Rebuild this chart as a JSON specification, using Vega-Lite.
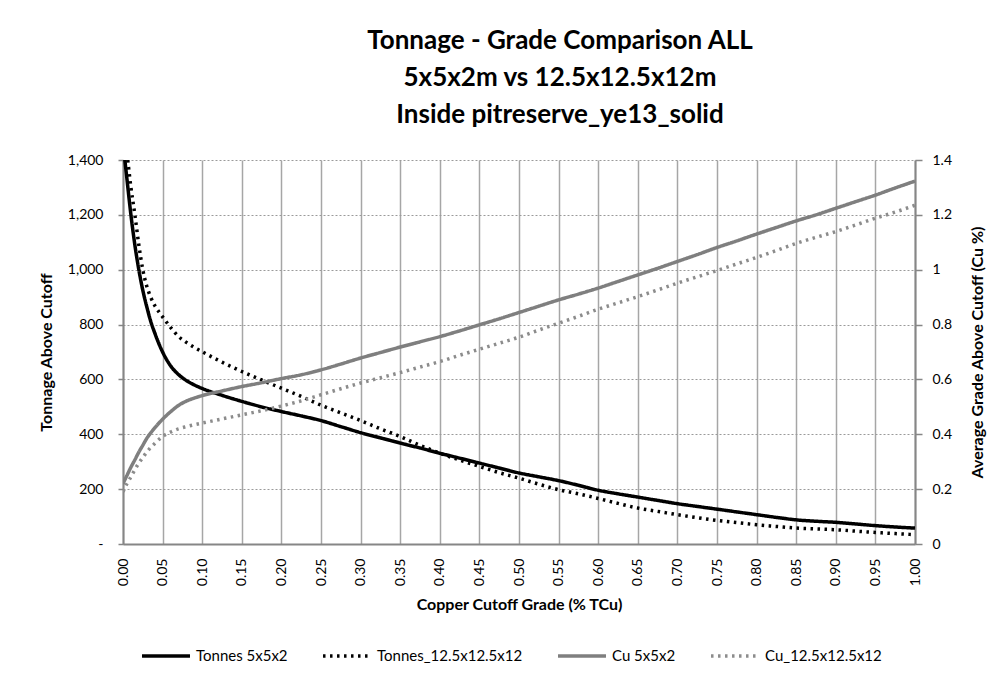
{
  "$schema": "https://vega.github.io/schema/vega-lite/v6.json",
  "autosize": {"type": "none"},
  "width": 792,
  "height": 384,
  "padding": {"left": 123, "top": 160, "right": 79, "bottom": 133},
  "background": "white",
  "title": {
    "text": ["Tonnage - Grade Comparison ALL", "5x5x2m vs 12.5x12.5x12m", "Inside pitreserve_ye13_solid"],
    "font": "Lato",
    "fontSize": 26,
    "fontWeight": "bold",
    "color": "#000000",
    "anchor": "middle",
    "dx": 41,
    "lineHeight": 37,
    "offset": 25
  },
  "datasets": {
    "tonnes": [
      {"cutoff": 0.0, "series": "Tonnes 5x5x2", "value": 1460},
      {"cutoff": 0.005, "series": "Tonnes 5x5x2", "value": 1330},
      {"cutoff": 0.01, "series": "Tonnes 5x5x2", "value": 1200},
      {"cutoff": 0.015, "series": "Tonnes 5x5x2", "value": 1090},
      {"cutoff": 0.02, "series": "Tonnes 5x5x2", "value": 1000},
      {"cutoff": 0.025, "series": "Tonnes 5x5x2", "value": 925},
      {"cutoff": 0.03, "series": "Tonnes 5x5x2", "value": 865},
      {"cutoff": 0.035, "series": "Tonnes 5x5x2", "value": 812},
      {"cutoff": 0.04, "series": "Tonnes 5x5x2", "value": 770},
      {"cutoff": 0.05, "series": "Tonnes 5x5x2", "value": 700},
      {"cutoff": 0.06, "series": "Tonnes 5x5x2", "value": 650},
      {"cutoff": 0.07, "series": "Tonnes 5x5x2", "value": 618},
      {"cutoff": 0.08, "series": "Tonnes 5x5x2", "value": 596},
      {"cutoff": 0.09, "series": "Tonnes 5x5x2", "value": 580},
      {"cutoff": 0.1, "series": "Tonnes 5x5x2", "value": 567},
      {"cutoff": 0.125, "series": "Tonnes 5x5x2", "value": 542},
      {"cutoff": 0.15, "series": "Tonnes 5x5x2", "value": 520},
      {"cutoff": 0.175, "series": "Tonnes 5x5x2", "value": 500},
      {"cutoff": 0.2, "series": "Tonnes 5x5x2", "value": 483},
      {"cutoff": 0.225, "series": "Tonnes 5x5x2", "value": 467},
      {"cutoff": 0.25, "series": "Tonnes 5x5x2", "value": 450},
      {"cutoff": 0.275, "series": "Tonnes 5x5x2", "value": 428},
      {"cutoff": 0.3, "series": "Tonnes 5x5x2", "value": 406},
      {"cutoff": 0.325, "series": "Tonnes 5x5x2", "value": 387},
      {"cutoff": 0.35, "series": "Tonnes 5x5x2", "value": 368},
      {"cutoff": 0.375, "series": "Tonnes 5x5x2", "value": 350},
      {"cutoff": 0.4, "series": "Tonnes 5x5x2", "value": 331},
      {"cutoff": 0.425, "series": "Tonnes 5x5x2", "value": 313},
      {"cutoff": 0.45, "series": "Tonnes 5x5x2", "value": 295},
      {"cutoff": 0.475, "series": "Tonnes 5x5x2", "value": 277},
      {"cutoff": 0.5, "series": "Tonnes 5x5x2", "value": 259},
      {"cutoff": 0.525, "series": "Tonnes 5x5x2", "value": 245},
      {"cutoff": 0.55, "series": "Tonnes 5x5x2", "value": 231},
      {"cutoff": 0.575, "series": "Tonnes 5x5x2", "value": 214},
      {"cutoff": 0.6, "series": "Tonnes 5x5x2", "value": 196},
      {"cutoff": 0.625, "series": "Tonnes 5x5x2", "value": 183},
      {"cutoff": 0.65, "series": "Tonnes 5x5x2", "value": 171},
      {"cutoff": 0.675, "series": "Tonnes 5x5x2", "value": 159},
      {"cutoff": 0.7, "series": "Tonnes 5x5x2", "value": 147},
      {"cutoff": 0.725, "series": "Tonnes 5x5x2", "value": 137},
      {"cutoff": 0.75, "series": "Tonnes 5x5x2", "value": 127},
      {"cutoff": 0.775, "series": "Tonnes 5x5x2", "value": 117},
      {"cutoff": 0.8, "series": "Tonnes 5x5x2", "value": 107},
      {"cutoff": 0.825, "series": "Tonnes 5x5x2", "value": 97},
      {"cutoff": 0.85, "series": "Tonnes 5x5x2", "value": 88},
      {"cutoff": 0.875, "series": "Tonnes 5x5x2", "value": 83},
      {"cutoff": 0.9, "series": "Tonnes 5x5x2", "value": 79},
      {"cutoff": 0.925, "series": "Tonnes 5x5x2", "value": 73},
      {"cutoff": 0.95, "series": "Tonnes 5x5x2", "value": 67},
      {"cutoff": 0.975, "series": "Tonnes 5x5x2", "value": 62},
      {"cutoff": 1.0, "series": "Tonnes 5x5x2", "value": 58},
      {"cutoff": 0.0, "series": "Tonnes_12.5x12.5x12", "value": 1500},
      {"cutoff": 0.005, "series": "Tonnes_12.5x12.5x12", "value": 1420},
      {"cutoff": 0.01, "series": "Tonnes_12.5x12.5x12", "value": 1300},
      {"cutoff": 0.015, "series": "Tonnes_12.5x12.5x12", "value": 1200},
      {"cutoff": 0.02, "series": "Tonnes_12.5x12.5x12", "value": 1090},
      {"cutoff": 0.025, "series": "Tonnes_12.5x12.5x12", "value": 1000},
      {"cutoff": 0.03, "series": "Tonnes_12.5x12.5x12", "value": 940},
      {"cutoff": 0.035, "series": "Tonnes_12.5x12.5x12", "value": 900},
      {"cutoff": 0.04, "series": "Tonnes_12.5x12.5x12", "value": 870},
      {"cutoff": 0.045, "series": "Tonnes_12.5x12.5x12", "value": 848},
      {"cutoff": 0.05, "series": "Tonnes_12.5x12.5x12", "value": 828},
      {"cutoff": 0.06, "series": "Tonnes_12.5x12.5x12", "value": 790},
      {"cutoff": 0.07, "series": "Tonnes_12.5x12.5x12", "value": 757},
      {"cutoff": 0.08, "series": "Tonnes_12.5x12.5x12", "value": 735},
      {"cutoff": 0.09, "series": "Tonnes_12.5x12.5x12", "value": 717},
      {"cutoff": 0.1, "series": "Tonnes_12.5x12.5x12", "value": 701},
      {"cutoff": 0.125, "series": "Tonnes_12.5x12.5x12", "value": 663},
      {"cutoff": 0.15, "series": "Tonnes_12.5x12.5x12", "value": 629},
      {"cutoff": 0.175, "series": "Tonnes_12.5x12.5x12", "value": 598},
      {"cutoff": 0.2, "series": "Tonnes_12.5x12.5x12", "value": 568},
      {"cutoff": 0.225, "series": "Tonnes_12.5x12.5x12", "value": 538},
      {"cutoff": 0.25, "series": "Tonnes_12.5x12.5x12", "value": 506},
      {"cutoff": 0.275, "series": "Tonnes_12.5x12.5x12", "value": 478},
      {"cutoff": 0.3, "series": "Tonnes_12.5x12.5x12", "value": 450},
      {"cutoff": 0.325, "series": "Tonnes_12.5x12.5x12", "value": 420},
      {"cutoff": 0.35, "series": "Tonnes_12.5x12.5x12", "value": 392},
      {"cutoff": 0.375, "series": "Tonnes_12.5x12.5x12", "value": 360},
      {"cutoff": 0.4, "series": "Tonnes_12.5x12.5x12", "value": 331},
      {"cutoff": 0.425, "series": "Tonnes_12.5x12.5x12", "value": 306},
      {"cutoff": 0.45, "series": "Tonnes_12.5x12.5x12", "value": 283},
      {"cutoff": 0.475, "series": "Tonnes_12.5x12.5x12", "value": 260},
      {"cutoff": 0.5, "series": "Tonnes_12.5x12.5x12", "value": 240},
      {"cutoff": 0.525, "series": "Tonnes_12.5x12.5x12", "value": 218},
      {"cutoff": 0.55, "series": "Tonnes_12.5x12.5x12", "value": 198},
      {"cutoff": 0.575, "series": "Tonnes_12.5x12.5x12", "value": 183},
      {"cutoff": 0.6, "series": "Tonnes_12.5x12.5x12", "value": 166},
      {"cutoff": 0.625, "series": "Tonnes_12.5x12.5x12", "value": 148},
      {"cutoff": 0.65, "series": "Tonnes_12.5x12.5x12", "value": 131},
      {"cutoff": 0.675, "series": "Tonnes_12.5x12.5x12", "value": 119},
      {"cutoff": 0.7, "series": "Tonnes_12.5x12.5x12", "value": 107},
      {"cutoff": 0.725, "series": "Tonnes_12.5x12.5x12", "value": 96},
      {"cutoff": 0.75, "series": "Tonnes_12.5x12.5x12", "value": 86},
      {"cutoff": 0.775, "series": "Tonnes_12.5x12.5x12", "value": 78},
      {"cutoff": 0.8, "series": "Tonnes_12.5x12.5x12", "value": 70},
      {"cutoff": 0.825, "series": "Tonnes_12.5x12.5x12", "value": 64},
      {"cutoff": 0.85, "series": "Tonnes_12.5x12.5x12", "value": 58},
      {"cutoff": 0.875, "series": "Tonnes_12.5x12.5x12", "value": 55},
      {"cutoff": 0.9, "series": "Tonnes_12.5x12.5x12", "value": 52},
      {"cutoff": 0.925, "series": "Tonnes_12.5x12.5x12", "value": 47},
      {"cutoff": 0.95, "series": "Tonnes_12.5x12.5x12", "value": 42},
      {"cutoff": 0.975, "series": "Tonnes_12.5x12.5x12", "value": 38},
      {"cutoff": 1.0, "series": "Tonnes_12.5x12.5x12", "value": 34}
    ],
    "grade": [
      {"cutoff": 0.0, "series": "Cu 5x5x2", "value": 0.22},
      {"cutoff": 0.005, "series": "Cu 5x5x2", "value": 0.25},
      {"cutoff": 0.01, "series": "Cu 5x5x2", "value": 0.28},
      {"cutoff": 0.015, "series": "Cu 5x5x2", "value": 0.307},
      {"cutoff": 0.02, "series": "Cu 5x5x2", "value": 0.335},
      {"cutoff": 0.025, "series": "Cu 5x5x2", "value": 0.36},
      {"cutoff": 0.03, "series": "Cu 5x5x2", "value": 0.385},
      {"cutoff": 0.035, "series": "Cu 5x5x2", "value": 0.405},
      {"cutoff": 0.04, "series": "Cu 5x5x2", "value": 0.423},
      {"cutoff": 0.05, "series": "Cu 5x5x2", "value": 0.455},
      {"cutoff": 0.06, "series": "Cu 5x5x2", "value": 0.482},
      {"cutoff": 0.07, "series": "Cu 5x5x2", "value": 0.505},
      {"cutoff": 0.08, "series": "Cu 5x5x2", "value": 0.521},
      {"cutoff": 0.09, "series": "Cu 5x5x2", "value": 0.532},
      {"cutoff": 0.1, "series": "Cu 5x5x2", "value": 0.541},
      {"cutoff": 0.125, "series": "Cu 5x5x2", "value": 0.558},
      {"cutoff": 0.15, "series": "Cu 5x5x2", "value": 0.574},
      {"cutoff": 0.175, "series": "Cu 5x5x2", "value": 0.588},
      {"cutoff": 0.2, "series": "Cu 5x5x2", "value": 0.603},
      {"cutoff": 0.225, "series": "Cu 5x5x2", "value": 0.617},
      {"cutoff": 0.25, "series": "Cu 5x5x2", "value": 0.635},
      {"cutoff": 0.275, "series": "Cu 5x5x2", "value": 0.656},
      {"cutoff": 0.3, "series": "Cu 5x5x2", "value": 0.678},
      {"cutoff": 0.325, "series": "Cu 5x5x2", "value": 0.698},
      {"cutoff": 0.35, "series": "Cu 5x5x2", "value": 0.718},
      {"cutoff": 0.375, "series": "Cu 5x5x2", "value": 0.737},
      {"cutoff": 0.4, "series": "Cu 5x5x2", "value": 0.756},
      {"cutoff": 0.425, "series": "Cu 5x5x2", "value": 0.777},
      {"cutoff": 0.45, "series": "Cu 5x5x2", "value": 0.799},
      {"cutoff": 0.475, "series": "Cu 5x5x2", "value": 0.821},
      {"cutoff": 0.5, "series": "Cu 5x5x2", "value": 0.844},
      {"cutoff": 0.525, "series": "Cu 5x5x2", "value": 0.867},
      {"cutoff": 0.55, "series": "Cu 5x5x2", "value": 0.89},
      {"cutoff": 0.575, "series": "Cu 5x5x2", "value": 0.911},
      {"cutoff": 0.6, "series": "Cu 5x5x2", "value": 0.933},
      {"cutoff": 0.625, "series": "Cu 5x5x2", "value": 0.957},
      {"cutoff": 0.65, "series": "Cu 5x5x2", "value": 0.981},
      {"cutoff": 0.675, "series": "Cu 5x5x2", "value": 1.005},
      {"cutoff": 0.7, "series": "Cu 5x5x2", "value": 1.03},
      {"cutoff": 0.725, "series": "Cu 5x5x2", "value": 1.055},
      {"cutoff": 0.75, "series": "Cu 5x5x2", "value": 1.081},
      {"cutoff": 0.775, "series": "Cu 5x5x2", "value": 1.105},
      {"cutoff": 0.8, "series": "Cu 5x5x2", "value": 1.13},
      {"cutoff": 0.825, "series": "Cu 5x5x2", "value": 1.154},
      {"cutoff": 0.85, "series": "Cu 5x5x2", "value": 1.178},
      {"cutoff": 0.875, "series": "Cu 5x5x2", "value": 1.2},
      {"cutoff": 0.9, "series": "Cu 5x5x2", "value": 1.224},
      {"cutoff": 0.925, "series": "Cu 5x5x2", "value": 1.248},
      {"cutoff": 0.95, "series": "Cu 5x5x2", "value": 1.272},
      {"cutoff": 0.975, "series": "Cu 5x5x2", "value": 1.298},
      {"cutoff": 1.0, "series": "Cu 5x5x2", "value": 1.323},
      {"cutoff": 0.0, "series": "Cu_12.5x12.5x12", "value": 0.19},
      {"cutoff": 0.005, "series": "Cu_12.5x12.5x12", "value": 0.22},
      {"cutoff": 0.01, "series": "Cu_12.5x12.5x12", "value": 0.245},
      {"cutoff": 0.015, "series": "Cu_12.5x12.5x12", "value": 0.271},
      {"cutoff": 0.02, "series": "Cu_12.5x12.5x12", "value": 0.295},
      {"cutoff": 0.025, "series": "Cu_12.5x12.5x12", "value": 0.315},
      {"cutoff": 0.03, "series": "Cu_12.5x12.5x12", "value": 0.335},
      {"cutoff": 0.035, "series": "Cu_12.5x12.5x12", "value": 0.352},
      {"cutoff": 0.04, "series": "Cu_12.5x12.5x12", "value": 0.366},
      {"cutoff": 0.05, "series": "Cu_12.5x12.5x12", "value": 0.392},
      {"cutoff": 0.06, "series": "Cu_12.5x12.5x12", "value": 0.408},
      {"cutoff": 0.07, "series": "Cu_12.5x12.5x12", "value": 0.42},
      {"cutoff": 0.08, "series": "Cu_12.5x12.5x12", "value": 0.428},
      {"cutoff": 0.09, "series": "Cu_12.5x12.5x12", "value": 0.435},
      {"cutoff": 0.1, "series": "Cu_12.5x12.5x12", "value": 0.441},
      {"cutoff": 0.125, "series": "Cu_12.5x12.5x12", "value": 0.456},
      {"cutoff": 0.15, "series": "Cu_12.5x12.5x12", "value": 0.471},
      {"cutoff": 0.175, "series": "Cu_12.5x12.5x12", "value": 0.486},
      {"cutoff": 0.2, "series": "Cu_12.5x12.5x12", "value": 0.503},
      {"cutoff": 0.225, "series": "Cu_12.5x12.5x12", "value": 0.522},
      {"cutoff": 0.25, "series": "Cu_12.5x12.5x12", "value": 0.544},
      {"cutoff": 0.275, "series": "Cu_12.5x12.5x12", "value": 0.566},
      {"cutoff": 0.3, "series": "Cu_12.5x12.5x12", "value": 0.587},
      {"cutoff": 0.325, "series": "Cu_12.5x12.5x12", "value": 0.606},
      {"cutoff": 0.35, "series": "Cu_12.5x12.5x12", "value": 0.625},
      {"cutoff": 0.375, "series": "Cu_12.5x12.5x12", "value": 0.645},
      {"cutoff": 0.4, "series": "Cu_12.5x12.5x12", "value": 0.665},
      {"cutoff": 0.425, "series": "Cu_12.5x12.5x12", "value": 0.688},
      {"cutoff": 0.45, "series": "Cu_12.5x12.5x12", "value": 0.71},
      {"cutoff": 0.475, "series": "Cu_12.5x12.5x12", "value": 0.732},
      {"cutoff": 0.5, "series": "Cu_12.5x12.5x12", "value": 0.754},
      {"cutoff": 0.525, "series": "Cu_12.5x12.5x12", "value": 0.78},
      {"cutoff": 0.55, "series": "Cu_12.5x12.5x12", "value": 0.805},
      {"cutoff": 0.575, "series": "Cu_12.5x12.5x12", "value": 0.83},
      {"cutoff": 0.6, "series": "Cu_12.5x12.5x12", "value": 0.856},
      {"cutoff": 0.625, "series": "Cu_12.5x12.5x12", "value": 0.879},
      {"cutoff": 0.65, "series": "Cu_12.5x12.5x12", "value": 0.902},
      {"cutoff": 0.675, "series": "Cu_12.5x12.5x12", "value": 0.926},
      {"cutoff": 0.7, "series": "Cu_12.5x12.5x12", "value": 0.951},
      {"cutoff": 0.725, "series": "Cu_12.5x12.5x12", "value": 0.974},
      {"cutoff": 0.75, "series": "Cu_12.5x12.5x12", "value": 0.997},
      {"cutoff": 0.775, "series": "Cu_12.5x12.5x12", "value": 1.021},
      {"cutoff": 0.8, "series": "Cu_12.5x12.5x12", "value": 1.045},
      {"cutoff": 0.825, "series": "Cu_12.5x12.5x12", "value": 1.07},
      {"cutoff": 0.85, "series": "Cu_12.5x12.5x12", "value": 1.096},
      {"cutoff": 0.875, "series": "Cu_12.5x12.5x12", "value": 1.118},
      {"cutoff": 0.9, "series": "Cu_12.5x12.5x12", "value": 1.139},
      {"cutoff": 0.925, "series": "Cu_12.5x12.5x12", "value": 1.163},
      {"cutoff": 0.95, "series": "Cu_12.5x12.5x12", "value": 1.188},
      {"cutoff": 0.975, "series": "Cu_12.5x12.5x12", "value": 1.21},
      {"cutoff": 1.0, "series": "Cu_12.5x12.5x12", "value": 1.235}
    ]
  },
  "encoding": {
    "x": {
      "field": "cutoff",
      "type": "quantitative",
      "scale": {"domain": [0, 1], "nice": false, "zero": false},
      "axis": {
        "title": "Copper Cutoff Grade (% TCu)",
        "values": [0, 0.05, 0.1, 0.15, 0.2, 0.25, 0.3, 0.35, 0.4, 0.45, 0.5, 0.55, 0.6, 0.65, 0.7, 0.75, 0.8, 0.85, 0.9, 0.95, 1.0],
        "format": ".2f",
        "labelAngle": 270,
        "labelPadding": 14,
        "ticks": false,
        "grid": true,
        "gridColor": "#a6a6a6",
        "gridWidth": 1.5,
        "titlePadding": 11
      }
    },
    "color": {
      "field": "series",
      "type": "nominal",
      "scale": {
        "domain": ["Tonnes 5x5x2", "Tonnes_12.5x12.5x12", "Cu 5x5x2", "Cu_12.5x12.5x12"],
        "range": ["#000000", "#000000", "#7f7f7f", "#8c8c8c"]
      },
      "legend": {
        "title": null,
        "orient": "none",
        "legendX": 17,
        "legendY": 470,
        "direction": "horizontal",
        "symbolType": "stroke",
        "symbolSize": 2300,
        "symbolStrokeWidth": 3.5,
        "labelFont": "Lato",
        "labelFontSize": 15,
        "labelColor": "#000000",
        "labelOffset": 4,
        "columnPadding": 28
      }
    },
    "strokeDash": {
      "field": "series",
      "type": "nominal",
      "scale": {
        "domain": ["Tonnes 5x5x2", "Tonnes_12.5x12.5x12", "Cu 5x5x2", "Cu_12.5x12.5x12"],
        "range": [[1, 0], [2.5, 4.5], [1, 0], [2.5, 4.5]]
      },
      "legend": {
        "title": null,
        "orient": "none",
        "legendX": 17,
        "legendY": 470,
        "direction": "horizontal",
        "symbolType": "stroke",
        "symbolSize": 2300,
        "symbolStrokeWidth": 3.5,
        "labelFont": "Lato",
        "labelFontSize": 15,
        "labelColor": "#000000",
        "labelOffset": 4,
        "columnPadding": 28
      }
    }
  },
  "layer": [
    {
      "data": {"name": "tonnes"},
      "mark": {"type": "line", "strokeWidth": 3.5, "clip": true, "interpolate": "monotone"},
      "encoding": {
        "y": {
          "field": "value",
          "type": "quantitative",
          "scale": {"domain": [0, 1400], "nice": false},
          "axis": {
            "orient": "left",
            "title": "Tonnage  Above Cutoff",
            "values": [0, 200, 400, 600, 800, 1000, 1200, 1400],
            "labelExpr": "datum.value == 0 ? '-' : format(datum.value, ',')",
            "tickSize": 5,
            "labelPadding": 15,
            "titlePadding": 13,
            "grid": true,
            "gridDash": [2, 2],
            "gridColor": "#9a9a9a",
            "gridWidth": 1
          }
        }
      }
    },
    {
      "data": {"name": "grade"},
      "mark": {"type": "line", "strokeWidth": 3.5, "clip": true, "interpolate": "monotone"},
      "encoding": {
        "y": {
          "field": "value",
          "type": "quantitative",
          "scale": {"domain": [0, 1.4], "nice": false},
          "axis": {
            "orient": "right",
            "title": "Average Grade  Above Cutoff (Cu %)",
            "titleAngle": 270,
            "values": [0, 0.2, 0.4, 0.6, 0.8, 1.0, 1.2, 1.4],
            "labelExpr": "format(datum.value, '~g')",
            "tickSize": 7,
            "labelPadding": 10,
            "titlePadding": 34,
            "grid": false
          }
        }
      }
    }
  ],
  "resolve": {"scale": {"y": "independent"}},
  "config": {
    "font": "Lato",
    "view": {"stroke": null},
    "axis": {
      "labelFont": "Lato",
      "labelFontSize": 14,
      "labelColor": "#000000",
      "titleFont": "Lato",
      "titleFontSize": 16,
      "titleFontWeight": "bold",
      "titleColor": "#000000",
      "domainColor": "#868686",
      "domainWidth": 2,
      "tickColor": "#868686",
      "tickWidth": 1.5
    }
  }
}
